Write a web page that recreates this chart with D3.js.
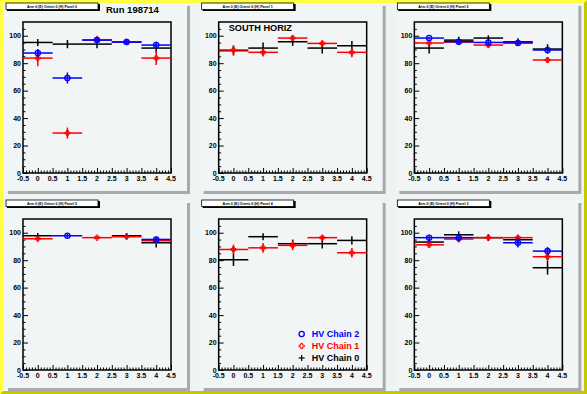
<!DOCTYPE html>
<html>
<head>
<meta charset="utf-8">
<script src="https://cdn.jsdelivr.net/npm/d3@7"></script>
<style>
  body { margin: 0; background: #fff; }
  svg { display: block; font-family: "Liberation Sans", Arial, sans-serif; }
</style>
</head>
<body>
<script>
// bins and panel titles
const bins = [0, 1, 2, 3, 4];
const xTicks = [-0.5, 0, 0.5, 1, 1.5, 2, 2.5, 3, 3.5, 4, 4.5];
const yTicks = [0, 20, 40, 60, 80, 100];
const panelTitles = [
  "Arm 0 (E) Orient 0 (H) Panel 0",
  "Arm 0 (E) Orient 0 (H) Panel 1",
  "Arm 0 (E) Orient 0 (H) Panel 2",
  "Arm 0 (E) Orient 0 (H) Panel 5",
  "Arm 0 (E) Orient 0 (H) Panel 4",
  "Arm 0 (E) Orient 0 (H) Panel 3"
];

// HV Chain 2 (blue), one row per panel, null = no point
const chain2 = [
  [87.4, 69.2, 96.8, 95.4, 93.2],
  [null, null, null, null, null],
  [98.3, 95.6, 95.1, 94.7, 89.6],
  [null, 97.8, null, null, 95.1],
  [null, null, null, null, null],
  [96.4, 96.4, null, 92.7, 86.6]
];
const chain2Err = [
  [3, 4, 2, 1.5, 2.5],
  [0, 0, 0, 0, 0],
  [1, 1.5, 1.5, 1.5, 2],
  [0, 1.5, 0, 0, 2],
  [0, 0, 0, 0, 0],
  [1.5, 2, 0, 3.5, 3]
];

// HV Chain 1 (red)
const chain1 = [
  [83.7, 29.1, 97.0, 95.6, 83.7],
  [89.6, 87.9, 98.3, 94.4, 87.9],
  [94.7, 95.4, 93.2, 95.1, 82.3],
  [95.6, null, 96.4, 97.1, 94.2],
  [87.8, 89.0, 90.8, 96.4, 85.4],
  [91.2, 95.4, 96.4, 96.4, 82.5]
];
const chain1Err = [
  [6, 4, 3, 1.5, 5],
  [3.5, 3, 1.5, 2, 3.5],
  [2, 1.5, 1.5, 1.5, 2],
  [1.5, 0, 1, 1, 1.5],
  [3.5, 3.5, 3.5, 1.5, 3.5],
  [2, 2.5, 1.5, 1.5, 3]
];

// HV Chain 0 (black)
const chain0 = [
  [95.1, 93.9, 93.9, 95.5, 91.0],
  [89.1, 91.0, 95.6, 91.0, 92.7],
  [91.0, 96.8, 98.3, 95.6, 90.3],
  [97.8, null, null, 97.8, 92.7],
  [80.3, 97.1, 92.0, 92.0, 94.4],
  [93.2, 98.5, 96.4, 94.9, 74.5]
];
const chain0Err = [
  [2.5, 3, 3, 2, 3],
  [3.5, 4, 3, 4, 3.5],
  [4, 2.5, 2, 2.5, 3.5],
  [2, 0, 0, 2, 3.5],
  [4.5, 2.5, 3, 3.5, 3],
  [2, 2.5, 2.5, 3, 5]
];

const legendLabels = ["HV Chain 2", "HV Chain 1", "HV Chain 0"];
const colors = ["#0000ff", "#ff0000", "#000000"];

const W = 587, H = 394;
const svg = d3.select("body").append("svg").attr("width", W).attr("height", H);

// canvas background and bevelled yellow frame
svg.append("rect").attr("width", W).attr("height", H).attr("fill", "#eef3f3");
const b = 3;
svg.append("path").attr("fill", "#ffff40")
  .attr("d", `M0,0H${W}L${W - b},${b}H${b}V${H - b}L0,${H}Z`);
svg.append("path").attr("fill", "#c6c600")
  .attr("d", `M${W},0V${H}H0L${b},${H - b}H${W - b}V${b}Z`);

// drawn black first, blue last
const series = [
  { vals: chain0, errs: chain0Err, color: colors[2], marker: "none" },
  { vals: chain1, errs: chain1Err, color: colors[1], marker: "cross" },
  { vals: chain2, errs: chain2Err, color: colors[0], marker: "circle" }
];

function drawMarker(g, type, cx, cy, color) {
  if (type === "circle") {
    g.append("circle").attr("cx", cx).attr("cy", cy).attr("r", 2.6)
      .attr("fill", "none").attr("stroke", color).attr("stroke-width", 1.3);
  } else if (type === "cross") {
    const a = 0.9, s = 2.6;
    g.append("path")
      .attr("d", `M${cx - a},${cy - s}H${cx + a}V${cy - a}H${cx + s}V${cy + a}H${cx + a}V${cy + s}H${cx - a}V${cy + a}H${cx - s}V${cy - a}H${cx - a}Z`)
      .attr("fill", "none").attr("stroke", color).attr("stroke-width", 1);
  }
}

panelTitles.forEach((title, i) => {
  const col = i % 3, row = Math.floor(i / 3);
  const px = col * 195.67, py = row * 197;
  const g = svg.append("g").attr("transform", `translate(${px},${py})`);

  // pad with shadow
  g.append("rect").attr("x", 8).attr("y", 6).attr("width", 182).attr("height", 188).attr("fill", "#aaaaaa");
  g.append("rect").attr("x", 5).attr("y", 3).attr("width", 182).attr("height", 188).attr("fill", "#f1f5f5");

  const fx0 = 23, fx1 = 171, fy0 = 22, fy1 = 173;
  const x = d3.scaleLinear().domain([-0.5, 4.5]).range([fx0, fx1]);
  const y = d3.scaleLinear().domain([0, 110]).range([fy1, fy0]);

  // y axis ticks inside the frame
  const yAx = g.append("g").attr("transform", `translate(${fx0},0)`)
    .call(d3.axisRight(y).tickValues(d3.range(0, 106, 5)).tickSize(2.5).tickFormat(""));
  yAx.selectAll(".tick line").filter(d => d % 20 === 0).attr("x2", 5);
  yAx.select(".domain").remove();
  yAx.selectAll("line").attr("stroke", "#000");

  // x axis ticks inside the frame
  const xAx = g.append("g").attr("transform", `translate(0,${fy1})`)
    .call(d3.axisTop(x).tickValues(d3.range(-0.5, 4.51, 0.1)).tickSize(2.5).tickFormat(""));
  xAx.selectAll(".tick line").filter(d => Math.abs(d * 2 - Math.round(d * 2)) < 1e-6).attr("y2", -5);
  xAx.select(".domain").remove();
  xAx.selectAll("line").attr("stroke", "#000");

  // labels
  g.append("g").selectAll("text").data(yTicks).join("text")
    .attr("x", fx0 - 2).attr("y", d => y(d) + 2.5)
    .attr("text-anchor", "end").attr("font-size", 7).attr("font-weight", "bold")
    .text(d => d);
  g.append("g").selectAll("text").data(xTicks).join("text")
    .attr("x", d => x(d)).attr("y", fy1 + 8)
    .attr("text-anchor", "middle").attr("font-size", 7).attr("font-weight", "bold")
    .text(d => d);

  // frame
  g.append("rect").attr("x", fx0).attr("y", fy0).attr("width", fx1 - fx0).attr("height", fy1 - fy0)
    .attr("fill", "none").attr("stroke", "#000").attr("stroke-width", 1.5);

  // data: horizontal bin-width bars, vertical error bars, markers
  series.forEach(s => {
    const vals = s.vals[i], errs = s.errs[i];
    bins.forEach((bx, k) => {
      const v = vals[k];
      if (v === null) return;
      g.append("line").attr("x1", x(bx - 0.5)).attr("x2", x(bx + 0.5))
        .attr("y1", y(v)).attr("y2", y(v)).attr("stroke", s.color).attr("stroke-width", 1.5);
      g.append("line").attr("x1", x(bx)).attr("x2", x(bx))
        .attr("y1", y(v - errs[k])).attr("y2", y(v + errs[k])).attr("stroke", s.color).attr("stroke-width", 1.5);
      drawMarker(g, s.marker, x(bx), y(v), s.color);
    });
  });

  // title box
  g.append("rect").attr("x", 7).attr("y", 4).attr("width", 93).attr("height", 7).attr("fill", "#000");
  g.append("rect").attr("x", 6).attr("y", 3).attr("width", 92).attr("height", 6.5)
    .attr("fill", "#fff").attr("stroke", "#000").attr("stroke-width", 0.8);
  g.append("text").attr("x", 52).attr("y", 7.6).attr("text-anchor", "middle")
    .attr("font-size", 3.6).attr("font-weight", "bold").text(title);

  if (i === 0) {
    g.append("text").attr("x", 106).attr("y", 12.5).attr("font-size", 9.5)
      .attr("font-weight", "bold").text("Run 198714");
  }
  if (i === 1) {
    g.append("text").attr("x", 33).attr("y", 31).attr("font-size", 9.2)
      .attr("font-weight", "bold").text("SOUTH HORIZ");
  }
  if (i === 4) {
    legendLabels.forEach((lab, k) => {
      const ly = 137 + k * 12;
      const mx = 106;
      if (k === 0) {
        drawMarker(g, "circle", mx, ly, colors[k]);
      } else if (k === 1) {
        drawMarker(g, "cross", mx, ly, colors[k]);
      } else {
        g.append("line").attr("x1", mx - 3).attr("x2", mx + 3).attr("y1", ly).attr("y2", ly)
          .attr("stroke", "#000").attr("stroke-width", 1.2);
        g.append("line").attr("x1", mx).attr("x2", mx).attr("y1", ly - 3).attr("y2", ly + 3)
          .attr("stroke", "#000").attr("stroke-width", 1.2);
      }
      g.append("text").attr("x", 116).attr("y", ly + 3.3).attr("font-size", 9)
        .attr("font-weight", "bold").attr("fill", colors[k]).text(lab);
    });
  }
});
</script>
</body>
</html>
